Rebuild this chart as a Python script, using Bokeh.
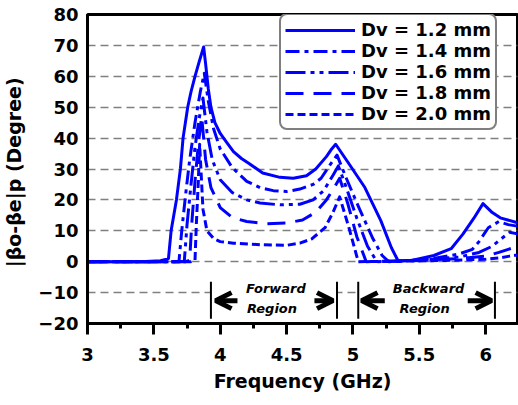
from bokeh.plotting import figure
from bokeh.models import (Range1d, FixedTicker, CustomJSTickFormatter, Legend, LegendItem,
                          BoxAnnotation, Arrow, OpenHead, Label)
from bokeh.embed import file_html
from bokeh.resources import INLINE

# ---------------- data ----------------
freq_12 = [3.00, 3.40, 3.55, 3.61, 3.63, 3.67, 3.70, 3.72, 3.755, 3.78, 3.81, 3.84, 3.875, 3.89, 3.91,
           3.93, 3.96, 4.00, 4.05, 4.10, 4.16, 4.22, 4.32, 4.45, 4.55, 4.65, 4.72, 4.80, 4.84, 4.87,
           4.97, 5.09, 5.21, 5.29, 5.34, 5.45, 5.61, 5.74, 5.83, 5.91, 5.98, 6.05, 6.11, 6.24]
val_12 = [0, 0, 0.3, 1, 10, 20, 30, 40, 50, 55, 60, 64.5, 69.5, 64, 56,
          50, 45, 41.5, 38.5, 35.6, 33.4, 31.7, 28.7, 27.3, 27, 27.8, 30, 34, 36.5, 38,
          31.7, 24, 13.3, 4.5, 0.3, 0.5, 2, 4.2, 9, 14, 18.8, 15.9, 14.2, 12.6]

freq_14 = [3.00, 3.66, 3.69, 3.71, 3.74, 3.77, 3.81, 3.85, 3.88, 3.91, 3.95, 4.00, 4.09, 4.20, 4.30,
           4.40, 4.50, 4.60, 4.70, 4.76, 4.83, 4.88, 4.95, 5.05, 5.15, 5.22, 5.27, 5.40, 5.60, 5.80,
           5.90, 5.95, 6.02, 6.10, 6.17, 6.24]
val_14 = [0, 0, 0.5, 10, 22, 33, 45, 55, 61, 52, 43, 36.5, 30.5, 26, 24,
          23, 22.7, 23.5, 25, 27, 31.5, 34.5, 27, 17, 7.5, 2, 0, 0.3, 1, 2.5,
          4, 6.5, 11, 13, 12, 11.5]

freq_16 = [3.00, 3.70, 3.73, 3.75, 3.78, 3.81, 3.84, 3.87, 3.90, 3.94, 4.00, 4.09, 4.20, 4.30, 4.45,
           4.60, 4.70, 4.78, 4.85, 4.89, 4.95, 5.03, 5.11, 5.18, 5.40, 5.60, 5.80, 5.95, 6.05, 6.12,
           6.18, 6.24]
val_16 = [0, 0, 0.5, 12, 25, 37, 46, 53, 42, 33, 26.5, 22.4, 20, 19, 18.4,
          18.6, 20, 23, 28, 31, 24, 14, 5, 0, 0.3, 0.8, 1.5, 3, 5, 7.5,
          9.5, 9]

freq_18 = [3.00, 3.74, 3.77, 3.785, 3.81, 3.835, 3.86, 3.89, 3.93, 4.00, 4.09, 4.20, 4.35, 4.50, 4.62,
           4.72, 4.80, 4.86, 4.90, 4.96, 5.03, 5.10, 5.40, 5.60, 5.80, 6.00, 6.10, 6.17, 6.24]
val_18 = [0, 0, 0.5, 12, 26, 38, 47, 33, 24, 17.5, 14.3, 13, 12.3, 12.5, 13.5,
          16, 20, 24, 27, 19, 8, 0, 0.3, 0.6, 1, 1.8, 3, 4, 5]

freq_20 = [3.00, 3.78, 3.81, 3.82, 3.835, 3.845, 3.87, 3.90, 3.95, 4.00, 4.10, 4.30, 4.50, 4.60, 4.69,
           4.79, 4.85, 4.90, 4.97, 5.04, 5.40, 5.70, 6.00, 6.10, 6.18, 6.24]
val_20 = [0, 0, 0.5, 12, 26, 38, 17, 10, 7.5, 6.5, 6, 5.5, 5.3, 6, 7.4,
          11, 16, 21, 11, 0, 0.2, 0.4, 0.8, 1.2, 1.8, 2.2]

series_labels = ["Dv = 1.2 mm", "Dv = 1.4 mm", "Dv = 1.6 mm", "Dv = 1.8 mm", "Dv = 2.0 mm"]

x_ticks = [3, 3.5, 4, 4.5, 5, 5.5, 6]
x_minor = [3.25, 3.75, 4.25, 4.75, 5.25, 5.75, 6.25]
y_ticks = [-20, -10, 0, 10, 20, 30, 40, 50, 60, 70, 80]

# annotation geometry (frequency / degree coordinates)
fwd_left, fwd_right = 3.93, 4.88
bwd_left, bwd_right = 5.04, 6.07
bar_bottom, bar_top = -18.5, -6.5
arrow_y = -12.6

# ---------------- figure ----------------
FONT = "DejaVu Sans"
BLUE = "#0000ff"

p = figure(width=518, height=405, output_backend="svg", toolbar_location=None,
           x_range=Range1d(3, 6.24), y_range=Range1d(-20, 80),
           min_border_left=84, min_border_right=1, min_border_top=14, min_border_bottom=82)
p.background_fill_color = "white"
p.border_fill_color = "white"
p.outline_line_color = "black"
p.outline_line_width = 3

# x axis
xa = p.xaxis[0]
xa.ticker = FixedTicker(ticks=x_ticks, minor_ticks=x_minor)
xa.formatter = CustomJSTickFormatter(code="return String(tick);")
xa.axis_label = "Frequency (GHz)"
xa.axis_label_text_font = FONT
xa.axis_label_text_font_style = "bold"
xa.axis_label_text_font_size = "19px"
xa.axis_label_text_color = "black"
xa.axis_label_standoff = 6
xa.major_label_text_font = FONT
xa.major_label_text_font_style = "bold"
xa.major_label_text_font_size = "18px"
xa.major_label_text_color = "black"
xa.major_label_standoff = 13
xa.axis_line_width = 3
xa.axis_line_color = "black"
xa.major_tick_line_width = 3
xa.major_tick_line_color = "black"
xa.major_tick_out = 11
xa.major_tick_in = 0
xa.minor_tick_line_width = 3
xa.minor_tick_line_color = "black"
xa.minor_tick_out = 5
xa.minor_tick_in = 0

# y axis
ya = p.yaxis[0]
ya.ticker = FixedTicker(ticks=y_ticks)
ya.axis_label = "|βo-βe|p  (Degree)"
ya.axis_label_text_font = FONT
ya.axis_label_text_font_style = "bold"
ya.axis_label_text_font_size = "19px"
ya.axis_label_text_color = "black"
ya.axis_label_standoff = 10
ya.major_label_text_font = FONT
ya.major_label_text_font_style = "bold"
ya.major_label_text_font_size = "18px"
ya.major_label_text_color = "black"
ya.major_label_standoff = 9
ya.axis_line_width = 3
ya.axis_line_color = "black"
ya.major_tick_out = 0
ya.major_tick_in = 0
ya.minor_tick_out = 0
ya.minor_tick_in = 0

p.xgrid.visible = False
p.ygrid.ticker = FixedTicker(ticks=y_ticks)
p.ygrid.grid_line_color = "#808080"
p.ygrid.grid_line_width = 1.5
p.ygrid.grid_line_dash = "8 5"

# curves
dashes = ["solid", "14 5 4 5", "20 5 4 5 4 5", "18 10", "8 4"]
data = [(freq_12, val_12), (freq_14, val_14), (freq_16, val_16), (freq_18, val_18), (freq_20, val_20)]
renderers = []
for (fx, fy), d in zip(data, dashes):
    r = p.line(fx, fy, line_color=BLUE, line_width=3, line_dash=d, line_join="round")
    renderers.append(r)

legend = Legend(items=[LegendItem(label=lab, renderers=[r]) for lab, r in zip(series_labels, renderers)],
                location=(192, 193))
legend.label_text_font = FONT
legend.label_text_font_style = "bold"
legend.label_text_font_size = "18px"
legend.label_text_color = "black"
legend.glyph_width = 70
legend.glyph_height = 20
legend.label_height = 20
legend.label_standoff = 6
legend.spacing = 0
legend.padding = 4
legend.margin = 0
legend.border_line_color = "black"
legend.border_line_width = 2
legend.background_fill_color = "white"
legend.background_fill_alpha = 1
if "border_radius" in Legend.properties():
    legend.border_radius = 8
p.add_layout(legend)

# region annotations
for l, r in [(fwd_left, fwd_right), (bwd_left, bwd_right)]:
    p.add_layout(BoxAnnotation(left=l, right=r, bottom=bar_bottom - 0.5, top=bar_top + 0.5,
                               fill_color="white", fill_alpha=1, line_color=None))
for xb in [fwd_left, fwd_right, bwd_left, bwd_right]:
    p.add_layout(Arrow(end=None, x_start=xb, y_start=bar_bottom, x_end=xb, y_end=bar_top,
                       line_color="black", line_width=2))

arrows = [(4.13, 3.965), (4.71, 4.85), (5.24, 5.065), (5.865, 6.045)]
for xs, xe in arrows:
    p.add_layout(Arrow(end=OpenHead(size=16, line_width=5, line_color="black"),
                       x_start=xs, y_start=arrow_y, x_end=xe, y_end=arrow_y,
                       line_color="black", line_width=5))

for txt, x, y in [("Forward", 4.42, -8.7), ("Region", 4.39, -15.2),
                  ("Backward", 5.57, -8.7), ("Region", 5.54, -15.2)]:
    p.add_layout(Label(x=x, y=y, text=txt, text_font=FONT, text_font_style="bold italic",
                       text_font_size="13px", text_color="black",
                       text_align="center", text_baseline="middle"))

open("out.html", "w").write(file_html(p, INLINE))
